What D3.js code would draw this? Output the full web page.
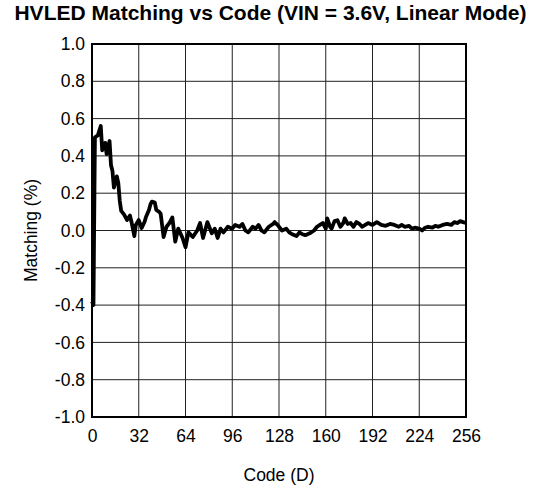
<!DOCTYPE html>
<html>
<head>
<meta charset="utf-8">
<script src="https://cdn.jsdelivr.net/npm/d3@7"></script>
<style>
body { margin: 0; background: #fff; }
text { font-family: "Liberation Sans", Arial, sans-serif; fill: #000; }
</style>
</head>
<body>
<script>
// data
var codes = [0, 1, 2, 4, 6, 7, 9, 10, 12, 13, 14, 15, 17, 18, 19, 20, 22, 24, 26, 27,
  29, 30, 32, 34, 36, 37, 39, 40, 41, 43, 44, 46, 47, 49, 51, 53, 55, 57, 59, 62,
  64, 66, 69, 72, 74, 76, 79, 82, 84, 86, 88, 90, 93, 96, 98, 101, 103, 105, 107, 110,
  112, 114, 116, 118, 121, 124, 125, 127, 130, 133, 135, 137, 140, 142, 144, 146, 149, 152, 154, 156,
  158, 160, 161, 163, 164, 166, 168, 170, 172, 173, 175, 177, 179, 181, 183, 185, 187, 189, 192, 195,
  198, 201, 204, 207, 210, 212, 214, 217, 219, 221, 224, 226, 228, 230, 233, 235, 237, 240, 243, 246,
  248, 250, 252, 254, 256];
var matching = [-0.38, -0.40, 0.50, 0.51, 0.56, 0.43, 0.47, 0.41, 0.48, 0.35, 0.32, 0.23, 0.29, 0.255, 0.16, 0.105, 0.085, 0.056, 0.08, 0.047,
  -0.03, 0.03, 0.056, 0.013, 0.047, 0.074, 0.11, 0.14, 0.155, 0.15, 0.11, 0.10, 0.09, -0.035, 0.02, 0.04, 0.07, -0.06, 0.01, -0.04,
  -0.09, -0.01, -0.035, 0.0, 0.04, -0.04, 0.045, -0.015, 0.01, -0.04, 0.01, -0.01, 0.02, 0.01, 0.03, 0.02, 0.035, 0.0, -0.01, 0.02,
  0.01, 0.03, 0.0, -0.01, 0.02, 0.035, 0.045, 0.03, 0.0, 0.01, -0.01, -0.02, -0.03, -0.01, -0.02, -0.025, -0.015, 0.0, 0.02, 0.03,
  0.04, 0.01, 0.065, 0.02, 0.01, 0.05, 0.055, 0.02, 0.04, 0.065, 0.035, 0.04, 0.02, 0.045, 0.035, 0.02, 0.03, 0.04, 0.03, 0.045,
  0.03, 0.025, 0.035, 0.03, 0.02, 0.03, 0.02, 0.025, 0.01, 0.015, 0.01, 0.0, 0.015, 0.02, 0.015, 0.025, 0.02, 0.03, 0.035, 0.03,
  0.045, 0.04, 0.05, 0.045, 0.04];
var xTicks = [0, 32, 64, 96, 128, 160, 192, 224, 256];
var yTicks = [-1.0, -0.8, -0.6, -0.4, -0.2, 0, 0.2, 0.4, 0.6, 0.8, 1.0];

var margin = {top: 44, right: 76, bottom: 69, left: 92},
	allWidth = 542,
	allHeight = 486,
	width = allWidth - margin.left - margin.right,
	height = allHeight - margin.top - margin.bottom;

var x = d3.scaleLinear().domain([0, 256]).range([margin.left, margin.left + width]);
var y = d3.scaleLinear().domain([-1, 1]).range([margin.top + height, margin.top]);

var svg = d3.select("body").append("svg")
	.attr("width", allWidth)
	.attr("height", allHeight);

// grid
svg.append("g")
	.selectAll("line")
	.data(xTicks.slice(1, -1))
	.enter().append("line")
		.attr("x1", function(d) { return x(d); })
		.attr("x2", function(d) { return x(d); })
		.attr("y1", margin.top)
		.attr("y2", margin.top + height)
		.attr("stroke", "#222")
		.attr("stroke-width", 1);
svg.append("g")
	.selectAll("line")
	.data(yTicks.slice(1, -1))
	.enter().append("line")
		.attr("x1", margin.left)
		.attr("x2", margin.left + width)
		.attr("y1", function(d) { return y(d); })
		.attr("y2", function(d) { return y(d); })
		.attr("stroke", "#222")
		.attr("stroke-width", 1);

// axes (labels only, frame drawn separately)
var xAxis = d3.axisBottom(x).tickValues(xTicks).tickSize(0).tickPadding(13)
	.tickFormat(d3.format("d"));
var yAxis = d3.axisLeft(y).tickValues(yTicks).tickSize(0).tickPadding(7)
	.tickFormat(function(d) { return d3.format(".1f")(d).replace("−", "-"); });

var gX = svg.append("g")
	.attr("transform", "translate(0," + (margin.top + height) + ")")
	.call(xAxis);
var gY = svg.append("g")
	.attr("transform", "translate(" + margin.left + ",0)")
	.call(yAxis);
gX.select(".domain").remove();
gY.select(".domain").remove();
svg.selectAll(".tick text")
	.style("font-family", "'Liberation Sans', Arial, sans-serif")
	.style("font-size", "17.5px")
	.attr("fill", "#000");

// frame
svg.append("rect")
	.attr("x", margin.left)
	.attr("y", margin.top)
	.attr("width", width)
	.attr("height", height)
	.attr("fill", "none")
	.attr("stroke", "#000")
	.attr("stroke-width", 2);

// curve
var pts = codes.map(function(c, i) { return [c, matching[i]]; });
var line = d3.line()
	.x(function(d) { return x(d[0]); })
	.y(function(d) { return y(d[1]); });
svg.append("path")
	.datum(pts)
	.attr("d", line)
	.attr("fill", "none")
	.attr("stroke", "#000")
	.attr("stroke-width", 3.8)
	.attr("stroke-linejoin", "round");

// title and labels
svg.append("text")
	.attr("x", 270.5)
	.attr("y", 20)
	.style("text-anchor", "middle")
	.style("font-size", "21px")
	.style("font-weight", "bold")
	.text("HVLED Matching vs Code (VIN = 3.6V, Linear Mode)");
svg.append("text")
	.attr("x", margin.left + width / 2)
	.attr("y", 481)
	.style("text-anchor", "middle")
	.style("font-size", "17.5px")
	.text("Code (D)");
svg.append("text")
	.attr("transform", "rotate(-90)")
	.attr("x", -(margin.top + height / 2))
	.attr("y", 37)
	.style("text-anchor", "middle")
	.style("font-size", "17.5px")
	.text("Matching (%)");
</script>
</body>
</html>
